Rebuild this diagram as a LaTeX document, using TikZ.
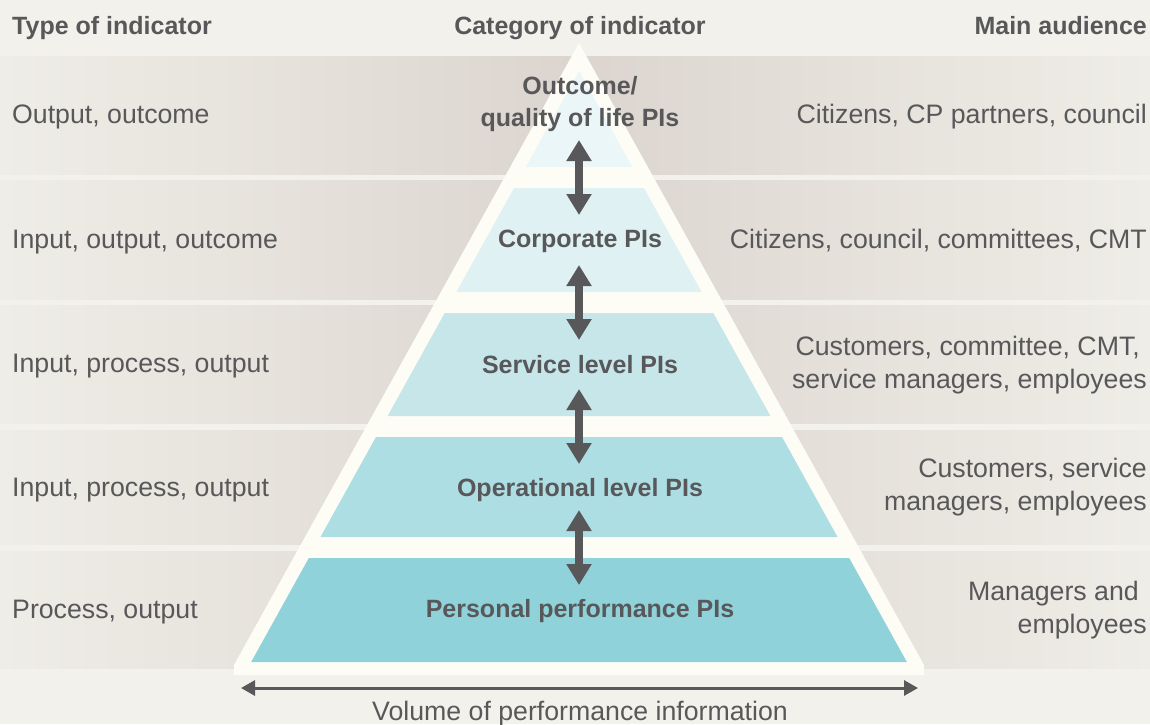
\documentclass[tikz,border=0pt]{standalone}
\usepackage{fontspec}
\setmainfont{Liberation Sans}
\usetikzlibrary{arrows.meta}
\definecolor{bg}{HTML}{F2F1EB}
\definecolor{bandedge}{HTML}{EFEDE7}
\definecolor{bandmid}{HTML}{DCD5CF}
\definecolor{pyrwhite}{HTML}{FDFDF6}
\definecolor{lvone}{HTML}{EBF6F8}
\definecolor{lvtwo}{HTML}{DFF1F3}
\definecolor{lvthree}{HTML}{C6E6EA}
\definecolor{lvfour}{HTML}{ADDEE3}
\definecolor{lvfive}{HTML}{8FD2D9}
\definecolor{ink}{HTML}{58585A}
\begin{document}
\begin{tikzpicture}[x=1pt,y=-1pt,
  declare function={hw(\t)=0.5547*(\t-43)-15.5;},
  band/.style={left color=bandedge,right color=bandedge,middle color=bandmid,draw=none},
  reg/.style={font=\fontsize{26.7}{33}\selectfont,text=ink,inner sep=0pt},
  boldt/.style={font=\bfseries\fontsize{25}{32}\selectfont,text=ink,inner sep=0pt},
  vert/.style={line width=8pt,draw=ink,{Triangle[width=24pt,length=21pt]}-{Triangle[width=24pt,length=21pt]}},
  horiz/.style={line width=3pt,draw=ink,{Triangle[width=15pt,length=14pt]}-{Triangle[width=15pt,length=14pt]}}]
\useasboundingbox (0,0) rectangle (1150,724);
\fill[bg] (0,0) rectangle (1150,724);
% bands
\shade[band] (0,56) rectangle (1150,174);
\shade[band] (0,180) rectangle (1150,299);
\shade[band] (0,305) rectangle (1150,423);
\shade[band] (0,430) rectangle (1150,544);
\shade[band] (0,551) rectangle (1150,668);
% pyramid
\fill[pyrwhite] (579,43) -- (234,665) -- (234,675) -- (924,675) -- (924,665) -- cycle;
\fill[lvone] (579,71) -- ({579-hw(167)},167) -- ({579+hw(167)},167) -- cycle;
\fill[lvtwo] ({579-hw(188)},188) -- ({579+hw(188)},188) -- ({579+hw(292)},292) -- ({579-hw(292)},292) -- cycle;
\fill[lvthree] ({579-hw(313)},313) -- ({579+hw(313)},313) -- ({579+hw(416)},416) -- ({579-hw(416)},416) -- cycle;
\fill[lvfour] ({579-hw(437)},437) -- ({579+hw(437)},437) -- ({579+hw(537)},537) -- ({579-hw(537)},537) -- cycle;
\fill[lvfive] ({579-hw(558)},558) -- ({579+hw(558)},558) -- ({579+hw(662)},662) -- ({579-hw(662)},662) -- cycle;
% headings
\node[boldt,anchor=base west] (h1) at (12,34) {Type of indicator};
\node[boldt,anchor=base] (h2) at (580,34) {Category of indicator};
\node[boldt,anchor=base east] (h3) at (1147,34) {Main audience};
% left labels
\node[reg,anchor=base west] (t1) at (12,123) {Output, outcome};
\node[reg,anchor=base west] (t2) at (12,248) {Input, output, outcome};
\node[reg,anchor=base west] (t3) at (12,372) {Input, process, output};
\node[reg,anchor=base west] (t4) at (12,496) {Input, process, output};
\node[reg,anchor=base west] (t5) at (12,618) {Process, output};
% pyramid labels
\node[boldt,anchor=base,align=center] (c1) at (580,126) {Outcome/\\quality of life PIs};
\node[boldt,anchor=base] (c2) at (580,247) {Corporate PIs};
\node[boldt,anchor=base] (c3) at (580,373) {Service level PIs};
\node[boldt,anchor=base] (c4) at (580,496) {Operational level PIs};
\node[boldt,anchor=base] (c5) at (580,617) {Personal performance PIs};
% right labels
\node[reg,anchor=base east] (m1) at (1147,123) {Citizens, CP partners, council};
\node[reg,anchor=base east] (m2) at (1147,248) {Citizens, council, committees, CMT};
\node[reg,anchor=base east,align=right] (m3) at (1147,388) {Customers, committee, CMT,\kern7pt\\service managers, employees};
\node[reg,anchor=base east,align=right] (m4) at (1147,510) {Customers, service\\managers, employees};
\node[reg,anchor=base east,align=right] (m5) at (1147,633) {Managers and\kern8pt\\employees};
% vertical arrows
\coordinate (a1t) at (579,140); \coordinate (a1b) at (579,215);
\coordinate (a2t) at (579,265); \coordinate (a2b) at (579,340);
\coordinate (a3t) at (579,389); \coordinate (a3b) at (579,464);
\coordinate (a4t) at (579,510); \coordinate (a4b) at (579,585);
\draw[vert] (a1t) -- (a1b);
\draw[vert] (a2t) -- (a2b);
\draw[vert] (a3t) -- (a3b);
\draw[vert] (a4t) -- (a4b);
% volume arrow
\coordinate (vl) at (241,688); \coordinate (vr) at (918,688);
\draw[horiz] (vl) -- (vr);
\node[reg,anchor=base] (vol) at (580,720) {Volume of performance information};
\end{tikzpicture}
\end{document}
